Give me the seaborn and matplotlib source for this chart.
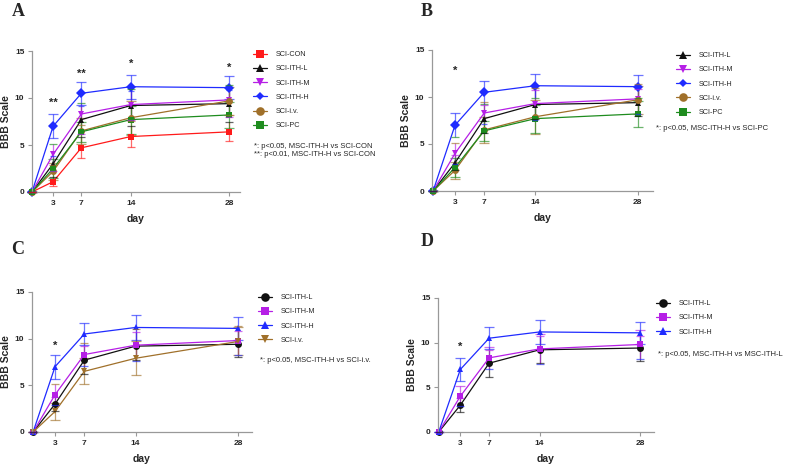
import pandas as pd
import seaborn as sns
import matplotlib.pyplot as plt
from matplotlib.lines import Line2D

# time points (days after SCI)
days = [0, 3, 7, 14, 28]

# mean BBB scores per group
sci_con = [0, 1.1, 4.7, 5.9, 6.4]
ith_l = [0, 3.0, 7.7, 9.2, 9.4]
ith_m = [0, 4.0, 8.3, 9.3, 9.8]
ith_h = [0, 7.0, 10.5, 11.2, 11.1]
sci_iv = [0, 2.2, 6.5, 7.9, 9.7]
sci_pc = [0, 2.5, 6.4, 7.7, 8.2]

# error bar half-widths
sci_con_err = [0, 0.5, 1.1, 1.1, 1.0]
ith_l_err = [0, 0.8, 1.5, 1.5, 1.4]
ith_m_err = [0, 1.1, 1.2, 1.7, 1.6]
ith_h_err = [0, 1.3, 1.2, 1.3, 1.2]
sci_iv_err = [0, 0.9, 1.4, 1.8, 1.5]
sci_pc_err = [0, 1.0, 1.1, 1.5, 1.4]

groups = {
    'SCI-CON': (sci_con, sci_con_err),
    'SCI-ITH-L': (ith_l, ith_l_err),
    'SCI-ITH-M': (ith_m, ith_m_err),
    'SCI-ITH-H': (ith_h, ith_h_err),
    'SCI-i.v.': (sci_iv, sci_iv_err),
    'SCI-PC': (sci_pc, sci_pc_err),
}

colors = {
    'SCI-CON': '#ff1a1a',
    'SCI-ITH-L': '#111111',
    'SCI-ITH-M': '#b61fe6',
    'SCI-ITH-H': '#1f2bff',
    'SCI-i.v.': '#a0702a',
    'SCI-PC': '#1e8c1e',
}

# panel definitions: groups shown, markers, stars, note text
panel_a_groups = ['SCI-CON', 'SCI-ITH-L', 'SCI-ITH-M', 'SCI-ITH-H', 'SCI-i.v.', 'SCI-PC']
panel_b_groups = ['SCI-ITH-L', 'SCI-ITH-M', 'SCI-ITH-H', 'SCI-i.v.', 'SCI-PC']
panel_c_groups = ['SCI-ITH-L', 'SCI-ITH-M', 'SCI-ITH-H', 'SCI-i.v.']
panel_d_groups = ['SCI-ITH-L', 'SCI-ITH-M', 'SCI-ITH-H']

markers_ab = {'SCI-CON': 's', 'SCI-ITH-L': '^', 'SCI-ITH-M': 'v', 'SCI-ITH-H': 'D',
              'SCI-i.v.': 'o', 'SCI-PC': 's'}
markers_cd = {'SCI-ITH-L': 'o', 'SCI-ITH-M': 's', 'SCI-ITH-H': '^', 'SCI-i.v.': 'v'}
msize = {'s': 5.6, '^': 5.4, 'v': 5.4, 'D': 4.3, 'o': 6.2}

stars_a_days = [3, 7, 14, 28]
stars_a_y = [9.5, 12.6, 13.6, 13.2]
stars_a_text = ['**', '**', '*', '*']
stars_b = ([3], [12.8], ['*'])
stars_c = ([3], [9.2], ['*'])
stars_d = ([3], [9.5], ['*'])

notes_a = '*: p<0.05, MSC-ITH-H vs SCI-CON\n**: p<0.01, MSC-ITH-H vs SCI-CON'
notes_b = '*: p<0.05, MSC-ITH-H vs SCI-PC'
notes_c = '*: p<0.05, MSC-ITH-H vs SCI-i.v.'
notes_d = '*: p<0.05, MSC-ITH-H vs MSC-ITH-L'

sns.set_style('ticks')
plt.rcParams['font.family'] = ['Liberation Sans', 'DejaVu Sans']

fig = plt.figure(figsize=(7.92, 4.66), dpi=100)
W, H = 792.0, 466.0


def make_panel(rect, xlim, names, markers, stars, note, note_xy, leg_xy, letter, letter_xy):
    ax = fig.add_axes(rect)
    rows = []
    for g in names:
        vals = groups[g][0]
        for d, v in zip(days, vals):
            rows.append({'day': d, 'bbb': v, 'group': g})
    df = pd.DataFrame(rows)

    # error bars first so the lines sit on top
    for g in names:
        vals, err = groups[g]
        ax.errorbar(days, vals, yerr=err, fmt='none', ecolor=colors[g], elinewidth=0.9,
                    capsize=3.5, capthick=0.9, alpha=0.65, clip_on=False, zorder=2)

    sns.lineplot(data=df, x='day', y='bbb', hue='group', style='group',
                 markers={g: markers[g] for g in names}, dashes=False,
                 palette={g: colors[g] for g in names}, hue_order=names,
                 style_order=names, linewidth=0.9, markersize=5,
                 markeredgewidth=0, errorbar=None, legend=False, ax=ax,
                 clip_on=False)
    # per-marker sizes, first group drawn on top (like Prism)
    for i, (line, g) in enumerate(zip(ax.get_lines(), names)):
        line.set_markersize(msize[markers[g]])
        line.set_markeredgecolor(colors[g])
        line.set_zorder(10 - i)

    ax.set_xlim(*xlim)
    ax.set_ylim(0, 15)
    ax.set_xticks([3, 7, 14, 28])
    ax.set_yticks([0, 5, 10, 15])
    ax.tick_params(axis='both', labelsize=6, length=3, width=0.8, color='#999999', pad=2.5)
    for lab in ax.get_xticklabels() + ax.get_yticklabels():
        lab.set_fontweight('bold')
    for s in ['top', 'right']:
        ax.spines[s].set_visible(False)
    for s in ['left', 'bottom']:
        ax.spines[s].set_color('#999999')
        ax.spines[s].set_linewidth(0.9)
    ax.set_xlabel('day', fontsize=7.5, fontweight='bold', labelpad=5)
    ax.set_ylabel('BBB Scale', fontsize=7.5, fontweight='bold', labelpad=3)

    sx, sy, st = stars
    for x, y, t in zip(sx, sy, st):
        ax.text(x, y, t, ha='center', va='center', fontsize=8, fontweight='bold')

    handles = [Line2D([0], [0], color=colors[g], marker=markers[g], lw=0.9,
                      markersize=msize[markers[g]], markeredgewidth=0) for g in names]
    fig.legend(handles, names, loc='upper left',
               bbox_to_anchor=(leg_xy[0] / W, 1 - leg_xy[1] / H),
               frameon=False, fontsize=5.2, handlelength=2.0, handletextpad=1.1,
               labelspacing=1.0, borderaxespad=0, borderpad=0)

    fig.text(note_xy[0] / W, 1 - note_xy[1] / H, note, fontsize=5.5, va='top', ha='left',
             linespacing=1.2)
    fig.text(letter_xy[0] / W, 1 - letter_xy[1] / H, letter, fontsize=13, fontweight='bold',
             family='Liberation Serif', ha='center', va='center')
    return ax


make_panel([32 / W, 1 - 192 / H, 208 / W, 141 / H], (0, 29.5), panel_a_groups, markers_ab,
           (stars_a_days, stars_a_y, stars_a_text), notes_a, (254, 143), (253, 51),
           'A', (18, 11))
make_panel([432 / W, 1 - 191 / H, 221 / W, 141 / H], (-0.15, 30.1), panel_b_groups, markers_ab,
           stars_b, notes_b, (656, 124.5), (676, 52), 'B', (427, 11))
make_panel([32 / W, 1 - 432 / H, 220 / W, 140 / H], (-0.15, 29.9), panel_c_groups, markers_cd,
           stars_c, notes_c, (260, 357.5), (258, 294), 'C', (18, 250))
make_panel([438 / W, 1 - 432 / H, 216 / W, 134 / H], (-0.1, 29.9), panel_d_groups, markers_cd,
           stars_d, notes_d, (658, 350.5), (656, 300), 'D', (427, 241))

fig.savefig('out.png', dpi=100)
